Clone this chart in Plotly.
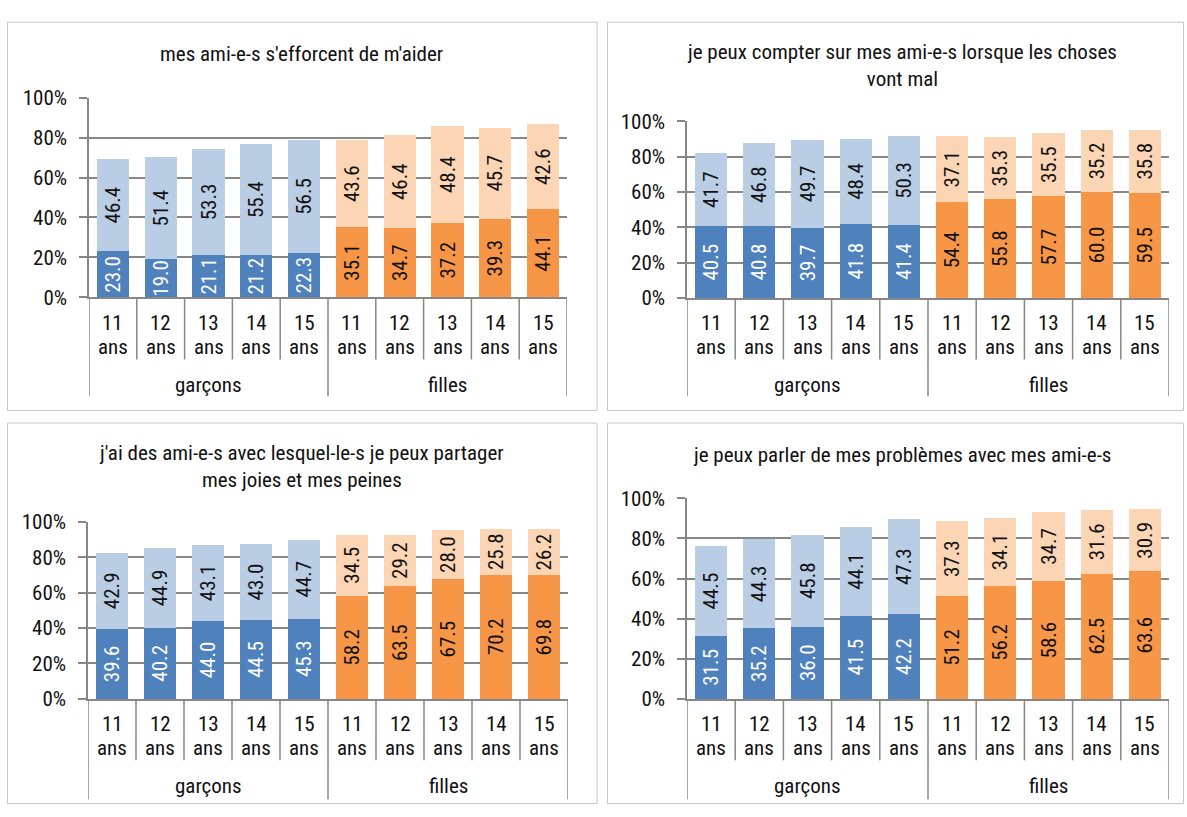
import plotly.graph_objects as go

# ---- data -------------------------------------------------------------
ages = ["11", "12", "13", "14", "15"]
groups = ["garçons", "filles"]

titles = [
    "mes ami-e-s s'efforcent de m'aider",
    "je peux compter sur mes ami-e-s lorsque les choses<br>vont mal",
    "j'ai des ami-e-s avec lesquel-le-s je peux partager<br>mes joies et mes peines",
    "je peux parler de mes problèmes avec mes ami-e-s",
]

# panel 1
boys_dark_1 = [23.0, 19.0, 21.1, 21.2, 22.3]
boys_light_1 = [46.4, 51.4, 53.3, 55.4, 56.5]
girls_dark_1 = [35.1, 34.7, 37.2, 39.3, 44.1]
girls_light_1 = [43.6, 46.4, 48.4, 45.7, 42.6]

# panel 2
boys_dark_2 = [40.5, 40.8, 39.7, 41.8, 41.4]
boys_light_2 = [41.7, 46.8, 49.7, 48.4, 50.3]
girls_dark_2 = [54.4, 55.8, 57.7, 60.0, 59.5]
girls_light_2 = [37.1, 35.3, 35.5, 35.2, 35.8]

# panel 3
boys_dark_3 = [39.6, 40.2, 44.0, 44.5, 45.3]
boys_light_3 = [42.9, 44.9, 43.1, 43.0, 44.7]
girls_dark_3 = [58.2, 63.5, 67.5, 70.2, 69.8]
girls_light_3 = [34.5, 29.2, 28.0, 25.8, 26.2]

# panel 4
boys_dark_4 = [31.5, 35.2, 36.0, 41.5, 42.2]
boys_light_4 = [44.5, 44.3, 45.8, 44.1, 47.3]
girls_dark_4 = [51.2, 56.2, 58.6, 62.5, 63.6]
girls_light_4 = [37.3, 34.1, 34.7, 31.6, 30.9]

panels = [
    (boys_dark_1, boys_light_1, girls_dark_1, girls_light_1),
    (boys_dark_2, boys_light_2, girls_dark_2, girls_light_2),
    (boys_dark_3, boys_light_3, girls_dark_3, girls_light_3),
    (boys_dark_4, boys_light_4, girls_dark_4, girls_light_4),
]

# ---- styling ----------------------------------------------------------
W, H = 1187, 817
FONT = "Roboto Condensed, DejaVu Sans Condensed, sans-serif"
WEIGHT = 400
BLUE, BLUE_L = "#4F81BD", "#B9CDE5"
ORANGE, ORANGE_L = "#F79646", "#FCD5B5"
GRID = "#878787"
BOX = "#c6c6c6"
TXT = "#111111"
FS = 21


def px(x):
    return x / W


def py(y):
    return 1 - y / H


def font(color=TXT):
    return dict(family=FONT, size=FS, color=color, weight=WEIGHT)


# pixel geometry of each panel: box, plot area, label rows
geo = [
    dict(box=(7.5, 10.5, 597, 410.5), plot=(89, 567, 88.3, 294), title_y=43,
         title_x=302, num_y=320, ans_y=345, grp_y=384, sep_y=358, grp_line_y=396),
    dict(box=(607.5, 10.5, 1183.5, 410.5), plot=(687, 1169, 112.7, 294.7), title_y=55,
         title_x=902, num_y=320, ans_y=345, grp_y=384, sep_y=358, grp_line_y=396),
    dict(box=(7.5, 423.5, 597, 815.5), plot=(88, 568, 525.3, 707.7), title_y=468.5,
         title_x=302, num_y=734, ans_y=758, grp_y=797.5, sep_y=771, grp_line_y=811),
    dict(box=(607.5, 423.5, 1183.5, 815.5), plot=(687, 1169, 501, 707.7), title_y=456.7,
         title_x=902, num_y=734, ans_y=758, grp_y=797.5, sep_y=771, grp_line_y=811),
]

fig = go.Figure()
shapes = []
annotations = []
layout_axes = {}

xs = list(range(10))

for i, (bd, bl, gd, gl) in enumerate(panels):
    n = "" if i == 0 else str(i + 1)
    xa, ya = "x" + n, "y" + n
    g = geo[i]
    x0, x1, ytop, ybot = g["plot"]

    dark = bd + gd
    light = bl + gl
    fig.add_trace(go.Bar(
        x=xs, y=dark, xaxis=xa, yaxis=ya, width=0.67,
        marker=dict(color=[BLUE] * 5 + [ORANGE] * 5, line=dict(width=0)),
        text=[f"{v:.1f}" for v in dark], textposition="inside",
        insidetextanchor="middle", textangle=-90, constraintext="none",
        textfont=font(["white"] * 5 + [TXT] * 5),
        showlegend=False, hoverinfo="skip",
    ))
    fig.add_trace(go.Bar(
        x=xs, y=light, xaxis=xa, yaxis=ya, width=0.67,
        marker=dict(color=[BLUE_L] * 5 + [ORANGE_L] * 5, line=dict(width=0)),
        text=[f"{v:.1f}" for v in light], textposition="inside",
        insidetextanchor="middle", textangle=-90, constraintext="none",
        textfont=font(),
        showlegend=False, hoverinfo="skip",
    ))

    layout_axes["xaxis" + n] = dict(
        domain=[px(x0), px(x1)], anchor=ya, range=[-0.5, 9.5],
        showticklabels=False, ticks="", showgrid=False, zeroline=False,
        showline=True, linecolor=GRID, linewidth=1.5, fixedrange=True,
    )
    layout_axes["yaxis" + n] = dict(
        domain=[py(ybot), py(ytop)], anchor=xa, range=[0, 100], dtick=20,
        ticksuffix="%", ticks="outside", ticklen=8, tickcolor=GRID, tickwidth=1.5,
        showgrid=True, gridcolor=GRID, gridwidth=1.5, zeroline=False,
        showline=True, linecolor=GRID, linewidth=1.5, ticklabelstandoff=8,
        tickfont=font(), fixedrange=True,
    )

    # panel frame
    bx0, by0, bx1, by1 = g["box"]
    shapes.append(dict(type="rect", xref="paper", yref="paper",
                       x0=px(bx0), x1=px(bx1), y0=py(by1), y1=py(by0),
                       line=dict(color=BOX, width=1), layer="below"))

    # category separators below the axis
    for k in range(11):
        xv = k - 0.5
        major = k in (0, 5, 10)
        shapes.append(dict(type="line", xref=xa, yref="paper",
                           x0=xv, x1=xv, y0=py(ybot),
                           y1=py(g["grp_line_y"] if major else g["sep_y"]),
                           line=dict(color=GRID, width=1.5)))

    # age labels
    for k in xs:
        annotations.append(dict(xref=xa, yref="paper", x=k, y=py(g["num_y"]),
                                text=ages[k % 5], showarrow=False, yanchor="middle",
                                font=font()))
        annotations.append(dict(xref=xa, yref="paper", x=k, y=py(g["ans_y"]),
                                text="ans", showarrow=False, yanchor="middle",
                                font=font()))
    # group labels
    for j, grp in enumerate(groups):
        annotations.append(dict(xref=xa, yref="paper", x=2 + 5 * j, y=py(g["grp_y"]),
                                text=grp, showarrow=False, yanchor="middle",
                                font=font()))
    # panel title
    annotations.append(dict(xref="paper", yref="paper", x=px(g["title_x"]),
                            y=py(g["title_y"]), text=titles[i], showarrow=False,
                            xanchor="center", yanchor="middle",
                            font=font()))

fig.update_layout(
    width=W, height=H, autosize=False,
    margin=dict(l=0, r=0, t=0, b=0),
    paper_bgcolor="white", plot_bgcolor="white",
    barmode="stack", bargap=0.33,
    shapes=shapes, annotations=annotations,
    font=dict(family=FONT, color=TXT, weight=WEIGHT),
    **layout_axes,
)

fig.write_html("out.html")
